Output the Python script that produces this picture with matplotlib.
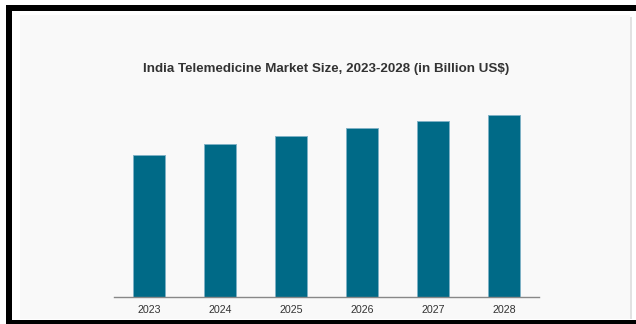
import matplotlib
matplotlib.use("Agg")
import matplotlib.pyplot as plt
from matplotlib.patches import Rectangle

years = ["2023", "2024", "2025", "2026", "2027", "2028"]
values = [1.42, 1.53, 1.61, 1.69, 1.76, 1.82]
title = "India Telemedicine Market Size, 2023-2028 (in Billion US$)"

W, H = 636, 324
fig = plt.figure(figsize=(W / 100, H / 100), dpi=100)
fig.patch.set_facecolor("white")

def px(x0, y0, x1, y1, **kw):
    r = Rectangle((x0 / W, 1 - y1 / H), (x1 - x0) / W, (y1 - y0) / H,
                  transform=fig.transFigure, linewidth=0, **kw)
    fig.add_artist(r)

# outer frame
px(6, 5, 636, 11, facecolor="black", zorder=0)
px(6, 5, 12, 321, facecolor="black", zorder=0)
px(6, 320, 636, 324, facecolor="black", zorder=0)
# panel + shadow
px(630, 17, 632, 319, facecolor="#e2e2e2", zorder=0)
px(20, 15, 630, 319, facecolor="#f9f9f9", zorder=0)

ax = fig.add_axes([113.8 / W, (H - 296.7) / H, 425.7 / W, 200 / H])
ax.set_facecolor("none")
x = list(range(len(years)))
ax.bar(x, values, width=0.45, color="#006a87", edgecolor="#7fb2c6", linewidth=0.7)
ax.set_xlim(-0.5, len(years) - 0.5)
ax.set_ylim(0, 2.0)
ax.set_xticks(x)
ax.set_xticklabels(years, family="Liberation Sans", fontsize=7.7, color="#333333")
ax.tick_params(axis="x", length=0, pad=6)
ax.set_yticks([])
for s in ["top", "right", "left"]:
    ax.spines[s].set_visible(False)
ax.spines["bottom"].set_color("#888888")
ax.spines["bottom"].set_linewidth(1.0)

fig.text(326 / W, 1 - 69 / H, title, ha="center", va="center",
         family="Liberation Sans", fontweight="bold", fontsize=9.6, color="#333333")

fig.savefig("out.png", dpi=100)
